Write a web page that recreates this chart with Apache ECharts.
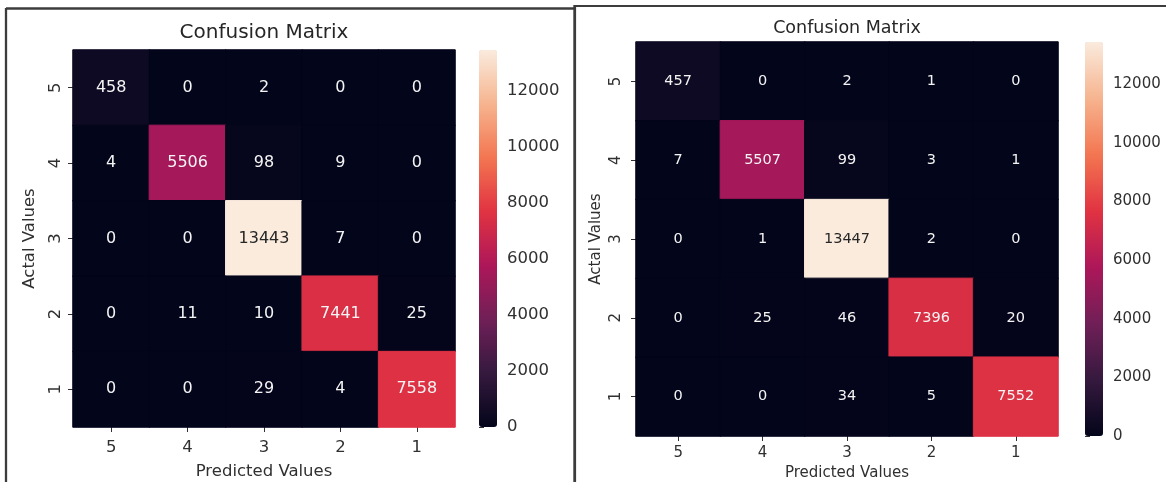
<!DOCTYPE html>
<html>
<head>
<meta charset="utf-8">
<title>Confusion Matrix</title>
<script src="https://cdn.jsdelivr.net/npm/echarts@6/dist/echarts.min.js"></script>
<style>
  html, body { margin: 0; padding: 0; background: #ffffff; }
  #chart { width: 1166px; height: 482px; }
</style>
</head>
<body>
<div id="chart"></div>
<script>
// Class labels, ordered as they appear along each axis
const predictedLabels = ['5', '4', '3', '2', '1'];
const actualLabels = ['5', '4', '3', '2', '1'];

// Counts per actual class (rows) and predicted class (columns), first model
const leftCounts = [
  [458, 0, 2, 0, 0],
  [4, 5506, 98, 9, 0],
  [0, 0, 13443, 7, 0],
  [0, 11, 10, 7441, 25],
  [0, 0, 29, 4, 7558]
];

// Counts for the second model
const rightCounts = [
  [457, 0, 2, 1, 0],
  [7, 5507, 99, 3, 1],
  [0, 1, 13447, 2, 0],
  [0, 25, 46, 7396, 20],
  [0, 0, 34, 5, 7552]
];

// Colorbar tick values
const colorbarTicks = [0, 2000, 4000, 6000, 8000, 10000, 12000];

// "rocket" colormap sampled at evenly spaced stops
const rocket = ['#03051A', '#35193E', '#701F57', '#AD1759', '#E13342', '#F37651', '#F6B48F', '#FAEBDD'];

const FONT = 'DejaVu Sans';
const TEXT = '#303030';

function hexToRgb(h) {
  return [parseInt(h.slice(1, 3), 16), parseInt(h.slice(3, 5), 16), parseInt(h.slice(5, 7), 16)];
}
function colorAt(t) {
  const pos = Math.max(0, Math.min(1, t)) * (rocket.length - 1);
  const i = Math.min(rocket.length - 2, Math.floor(pos));
  const f = pos - i;
  const a = hexToRgb(rocket[i]), b = hexToRgb(rocket[i + 1]);
  return a.map((c, k) => c + (b[k] - c) * f);
}
function luminance(rgb) {
  const lin = rgb.map(c => {
    c /= 255;
    return c <= 0.03928 ? c / 12.92 : Math.pow((c + 0.055) / 1.055, 2.4);
  });
  return 0.2126 * lin[0] + 0.7152 * lin[1] + 0.0722 * lin[2];
}
function maxOf(m) { return Math.max.apply(null, m.map(r => Math.max.apply(null, r))); }

// Heatmap items; annotation colour follows cell brightness, and a border in
// the cell's own colour closes the hairline seams between neighbouring cells
function buildCells(matrix) {
  const vmax = maxOf(matrix);
  const cells = [];
  matrix.forEach((row, r) => {
    row.forEach((v, c) => {
      const rgb = colorAt(v / vmax);
      const light = luminance(rgb) > 0.408;
      cells.push({
        value: [c, r, v],
        label: { color: light ? '#262626' : '#f4f4f4' },
        itemStyle: { borderColor: 'rgb(' + rgb.map(Math.round).join(',') + ')', borderWidth: 1 }
      });
    });
  });
  return cells;
}

function panel(idx, cfg, matrix) {
  const vmax = maxOf(matrix);
  const g = idx * 2, cb = idx * 2 + 1;
  return {
    grids: [
      { left: cfg.heat[0], top: cfg.heat[1], width: cfg.heat[2], height: cfg.heat[3], outerBoundsMode: 'none' },
      { left: cfg.bar[0], top: cfg.heat[1], width: cfg.bar[1], height: cfg.heat[3], outerBoundsMode: 'none' }
    ],
    xAxes: [
      {
        type: 'category', gridIndex: g, data: predictedLabels,
        name: 'Predicted Values', nameLocation: 'middle', nameGap: cfg.xNameGap,
        nameTextStyle: { fontFamily: FONT, fontSize: cfg.tick, color: TEXT },
        axisLine: { show: false },
        axisTick: { show: true, alignWithLabel: true, length: 5, lineStyle: { color: TEXT } },
        axisLabel: { fontFamily: FONT, fontSize: cfg.tick, color: TEXT, margin: cfg.xLabelMargin },
        splitLine: { show: false }
      },
      { type: 'value', gridIndex: cb, show: false, min: 0, max: 1 }
    ],
    yAxes: [
      {
        type: 'category', gridIndex: g, data: actualLabels, inverse: true,
        name: 'Actal Values', nameLocation: 'middle', nameGap: cfg.yNameGap, nameRotate: 90,
        nameTextStyle: { fontFamily: FONT, fontSize: cfg.tick, color: TEXT },
        axisLine: { show: false },
        axisTick: { show: true, alignWithLabel: true, length: 5, lineStyle: { color: TEXT } },
        axisLabel: { fontFamily: FONT, fontSize: cfg.tick, color: TEXT, rotate: 90, margin: cfg.yLabelMargin },
        splitLine: { show: false }
      },
      {
        type: 'value', gridIndex: cb, min: 0, max: vmax, position: 'right',
        axisLine: { show: false },
        axisTick: { show: true, length: 5, customValues: colorbarTicks, lineStyle: { color: TEXT } },
        axisLabel: {
          fontFamily: FONT, fontSize: cfg.tick, color: TEXT, margin: 10,
          customValues: colorbarTicks, formatter: v => String(v)
        },
        splitLine: { show: false }
      }
    ],
    series: {
      type: 'heatmap', xAxisIndex: g, yAxisIndex: g,
      data: buildCells(matrix),
      label: { show: true, fontFamily: FONT, fontSize: cfg.annot },
      emphasis: { disabled: true }
    },
    visualMap: {
      type: 'continuous', seriesIndex: idx, min: 0, max: vmax,
      inRange: { color: rocket },
      orient: 'vertical', left: cfg.bar[0], top: cfg.heat[1],
      itemWidth: cfg.bar[1], itemHeight: cfg.heat[3],
      calculable: false, showLabel: false, text: null, padding: 0, hoverLink: false
    },
    title: {
      text: 'Confusion Matrix',
      left: cfg.heat[0] + cfg.heat[2] / 2, top: cfg.titleTop, textAlign: 'center', padding: 0,
      textStyle: { fontFamily: FONT, fontSize: cfg.title, fontWeight: 'normal', color: '#262626' }
    }
  };
}

const leftPanel = panel(0, {
  heat: [73, 50, 382, 377], bar: [479, 18],
  tick: 16.5, annot: 16, title: 20,
  titleTop: 23, xLabelMargin: 12, xNameGap: 36, yLabelMargin: 9, yNameGap: 35
}, leftCounts);

const rightPanel = panel(1, {
  heat: [636, 42, 422, 394], bar: [1085, 18],
  tick: 15, annot: 14.5, title: 17.5,
  titleTop: 19, xLabelMargin: 10, xNameGap: 29, yLabelMargin: 12, yNameGap: 32
}, rightCounts);

const frame = { type: 'line', silent: true };

const option = {
  backgroundColor: '#ffffff',
  animation: false,
  title: [leftPanel.title, rightPanel.title],
  grid: leftPanel.grids.concat(rightPanel.grids),
  xAxis: leftPanel.xAxes.concat(rightPanel.xAxes),
  yAxis: leftPanel.yAxes.concat(rightPanel.yAxes),
  visualMap: [leftPanel.visualMap, rightPanel.visualMap],
  series: [leftPanel.series, rightPanel.series],
  graphic: [
    // screenshot frames around the two figures
    Object.assign({}, frame, { shape: { x1: 6, y1: 8.5, x2: 575, y2: 8.5 }, style: { stroke: '#3c3c3c', lineWidth: 2.5 } }),
    Object.assign({}, frame, { shape: { x1: 6, y1: 8, x2: 6, y2: 482 }, style: { stroke: '#3c3c3c', lineWidth: 2.3 } }),
    Object.assign({}, frame, { shape: { x1: 575, y1: 6, x2: 1166, y2: 6 }, style: { stroke: '#3c3c3c', lineWidth: 2 } }),
    Object.assign({}, frame, { shape: { x1: 574.7, y1: 5, x2: 574.7, y2: 482 }, style: { stroke: '#3c3c3c', lineWidth: 2.8 } })
  ]
};

const chart = echarts.init(document.getElementById('chart'), null, { renderer: 'canvas' });
chart.setOption(option);
</script>
</body>
</html>
